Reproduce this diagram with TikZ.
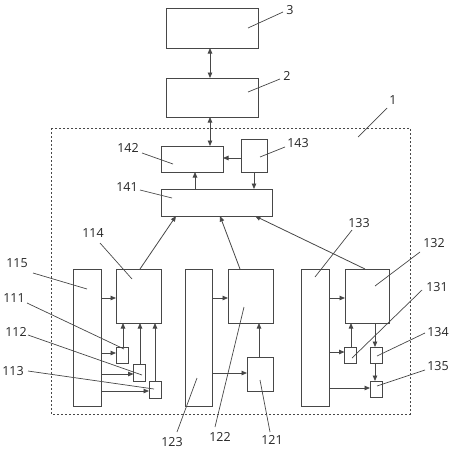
\documentclass[tikz,border=0pt]{standalone}
\usepackage{fontspec}
\setmainfont{Open Sans}
\usetikzlibrary{arrows.meta}
\begin{document}
\begin{tikzpicture}[x=1pt,y=-1pt,
  line width=0.8pt,
  color=black!72,
  box/.style={draw=black!72,line width=0.9pt,rectangle,inner sep=0pt,outer sep=0pt},
  arr/.style={-{Triangle[length=5.5pt,width=4.5pt]}},
  darr/.style={{Triangle[length=5.5pt,width=4.5pt]}-{Triangle[length=5.5pt,width=4.5pt]}},
  lbl/.style={inner sep=0pt,font=\fontsize{12.5}{14}\selectfont,text=black!85},
  lead/.style={line width=0.7pt}]
\useasboundingbox (0,0) rectangle (452,450);
% dashed container 1
\draw[dash pattern=on 2pt off 2pt,line width=0.8pt] (51,128) rectangle (410,414);
% top boxes
\node[box,minimum width=92,minimum height=40] (n3) at (212,28) {};
\node[box,minimum width=92,minimum height=39] (n2) at (212,97.5) {};
\node[box,minimum width=62,minimum height=26] (n142) at (192,159) {};
\node[box,minimum width=26,minimum height=33] (n143) at (254,155.5) {};
\node[box,minimum width=111,minimum height=27] (n141) at (216.5,202.5) {};
% group 11
\node[box,minimum width=28,minimum height=137] (n115) at (87,337.5) {};
\node[box,minimum width=45,minimum height=54] (n114) at (138.5,296) {};
\node[box,minimum width=12,minimum height=16] (n111) at (122,355) {};
\node[box,minimum width=12,minimum height=17] (n112) at (139.5,372.5) {};
\node[box,minimum width=12,minimum height=17] (n113) at (155,389.5) {};
% group 12
\node[box,minimum width=27,minimum height=137] (n123) at (198.5,337.5) {};
\node[box,minimum width=45,minimum height=54] (n122) at (250.5,296) {};
\node[box,minimum width=26,minimum height=34] (n121) at (260,374) {};
% group 13
\node[box,minimum width=28,minimum height=137] (n133) at (315,337.5) {};
\node[box,minimum width=44,minimum height=54] (n132) at (367,296) {};
\node[box,minimum width=12,minimum height=16] (n131) at (350.5,355) {};
\node[box,minimum width=12,minimum height=16] (n134) at (376,355) {};
\node[box,minimum width=12,minimum height=16] (n135) at (376,389) {};
% connectors top
\draw[darr] (210,0 |- n3.south) -- (210,0 |- n2.north);
\draw[darr] (210,0 |- n2.south) -- (210,0 |- n142.north);
\draw[arr] (n143.west |- 0,158) -- (n142.east |- 0,158);
\draw[arr] (n143.south) -- (n143.south |- n141.north);
\draw[arr] (195,0 |- n141.north) -- (195,0 |- n142.south);
% to 141
\draw[arr] (140,0 |- n114.north) -- (176,0 |- n141.south);
\draw[arr] (240,0 |- n122.north) -- (220,0 |- n141.south);
\draw[arr] (365,0 |- n132.north) -- (255,0 |- n141.south);
% group 11 connectors
\draw[arr] (n115.east |- 0,298) -- (n114.west |- 0,298);
\draw[arr] (n115.east |- 0,353) -- (n111.west |- 0,353);
\draw[arr] (n115.east |- 0,374) -- (n112.west |- 0,374);
\draw[arr] (n115.east |- 0,391) -- (n113.west |- 0,391);
\draw[arr] (123,0 |- n111.north) -- (123,0 |- n114.south);
\draw[arr] (140,0 |- n112.north) -- (140,0 |- n114.south);
\draw[arr] (155,0 |- n113.north) -- (155,0 |- n114.south);
% group 12 connectors
\draw[arr] (n123.east |- 0,298) -- (n122.west |- 0,298);
\draw[arr] (n123.east |- 0,373) -- (n121.west |- 0,373);
\draw[arr] (259,0 |- n121.north) -- (259,0 |- n122.south);
% group 13 connectors
\draw[arr] (n133.east |- 0,298) -- (n132.west |- 0,298);
\draw[arr] (n133.east |- 0,352) -- (n131.west |- 0,352);
\draw[arr] (351,0 |- n131.north) -- (351,0 |- n132.south);
\draw[arr] (375,0 |- n132.south) -- (375,0 |- n134.north);
\draw[arr] (375,0 |- n134.south) -- (375,0 |- n135.north);
\draw[arr] (n133.east |- 0,388) -- (n135.west |- 0,388);
% labels
\node[lbl] (l3) at (290,10) {3};
\node[lbl] (l2) at (287,76) {2};
\node[lbl] (l1) at (393,100) {1};
\node[lbl] (l142) at (128,148) {142};
\node[lbl] (l143) at (298,143) {143};
\node[lbl] (l141) at (127,187) {141};
\node[lbl] (l114) at (93,233) {114};
\node[lbl] (l133) at (359,223) {133};
\node[lbl] (l132) at (434,243) {132};
\node[lbl] (l115) at (17,263) {115};
\node[lbl] (l111) at (14,298) {111};
\node[lbl] (l112) at (16,332) {112};
\node[lbl] (l113) at (13,371) {113};
\node[lbl] (l123) at (172,442) {123};
\node[lbl] (l122) at (220,437) {122};
\node[lbl] (l121) at (272,440) {121};
\node[lbl] (l131) at (437,287) {131};
\node[lbl] (l134) at (438,332) {134};
\node[lbl] (l135) at (438,366) {135};
% leader coordinates
\coordinate (a3) at (283,12);   \coordinate (b3) at (248,28);
\coordinate (a2) at (280,79);   \coordinate (b2) at (248,92);
\coordinate (a1) at (387,108);  \coordinate (b1) at (358,137);
\coordinate (a142) at (142,153); \coordinate (b142) at (173,164);
\coordinate (a143) at (285,147); \coordinate (b143) at (260,157);
\coordinate (a141) at (140,190); \coordinate (b141) at (172,198);
\coordinate (a114) at (100,243); \coordinate (b114) at (132,279);
\coordinate (a133) at (352,230); \coordinate (b133) at (315,277);
\coordinate (a132) at (420,252); \coordinate (b132) at (375,286);
\coordinate (a115) at (33,273); \coordinate (b115) at (87,289);
\coordinate (a111) at (27,303); \coordinate (b111) at (124,349);
\coordinate (a112) at (28,335); \coordinate (b112) at (142,375);
\coordinate (a113) at (28,371); \coordinate (b113) at (154,389);
\coordinate (a123) at (177,432); \coordinate (b123) at (197,378);
\coordinate (a122) at (215,427); \coordinate (b122) at (244,307);
\coordinate (a121) at (270,432); \coordinate (b121) at (260,380);
\coordinate (a131) at (422,290); \coordinate (b131) at (352,358);
\coordinate (a134) at (425,333); \coordinate (b134) at (377,356);
\coordinate (a135) at (425,370); \coordinate (b135) at (377,386);
\foreach \k in {3,2,1,142,143,141,114,133,132,115,111,112,113,123,122,121,131,134,135}
  \draw[lead] (a\k) -- (b\k);
\end{tikzpicture}
\end{document}
